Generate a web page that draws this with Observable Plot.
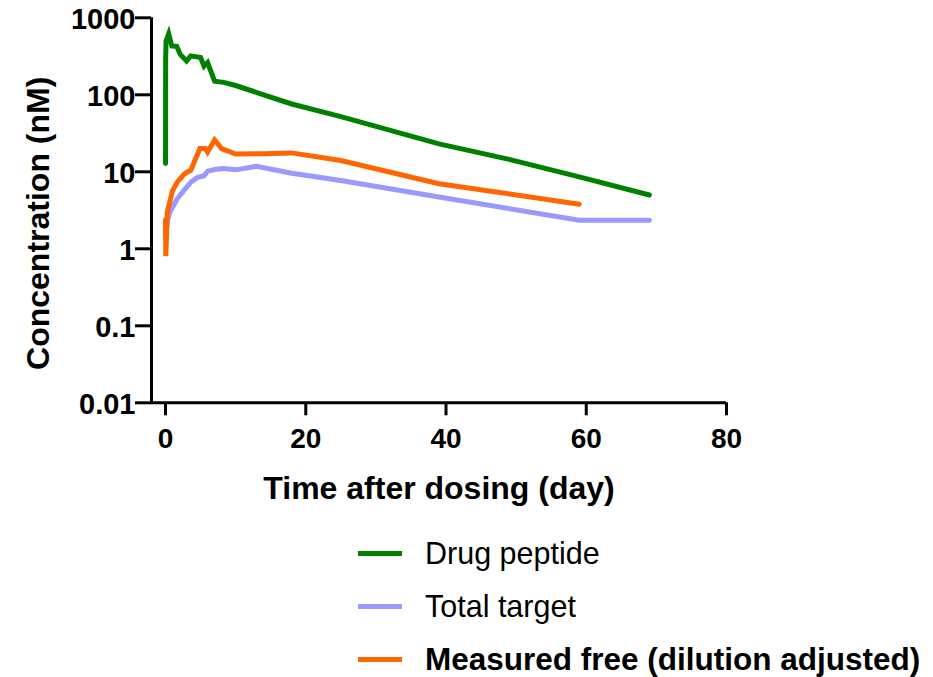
<!DOCTYPE html>
<html>
<head>
<meta charset="utf-8">
<script src="https://cdn.jsdelivr.net/npm/d3@7"></script>
<script src="https://cdn.jsdelivr.net/npm/@observablehq/plot@0.6"></script>
<style>
  html, body { margin: 0; padding: 0; background: #fff; }
  #wrap { position: relative; width: 933px; height: 677px; font-family: "Liberation Sans", Arial, sans-serif; }
  #legend { position: absolute; left: 358px; top: 527px; }
  .row { display: flex; align-items: center; height: 53px; }
  .sw { width: 44px; height: 5px; margin-right: 23px; }
  .lab { font-size: 30.5px; color: #000; white-space: nowrap; }
</style>
</head>
<body>
<div id="wrap"></div>
<script>
// Series names and colours
const seriesNames = ["Drug peptide", "Total target", "Measured free (dilution adjusted)"];
const seriesColors = ["#008000", "#9999ff", "#ff6600"];
const seriesBold = [false, false, true];

// Drug peptide: [day, nM]
const drugDays = [0, 0.02, 0.08, 0.45, 0.9, 1.6, 2.1, 3.0, 3.6, 5.0, 5.5, 6.0, 7.0, 8.3, 10, 14, 18, 25, 39, 49, 59, 69];
const drugVals = [12.8, 300, 500, 620, 430, 425, 335, 275, 320, 305, 235, 262, 150, 145, 132, 100, 76, 52, 23, 14.5, 8.6, 5.0];

// Total target
const totalDays = [0, 0.05, 0.3, 0.7, 1.7, 2.6, 3.6, 4.5, 5.5, 6.0, 7.2, 8.3, 10, 13, 18, 25, 39, 59, 69];
const totalVals = [2.0, 1.4, 2.4, 3.1, 4.5, 5.7, 7.3, 8.4, 8.9, 10.2, 10.8, 11.0, 10.6, 11.8, 9.6, 7.7, 4.7, 2.35, 2.35];

// Measured free (dilution adjusted)
const freeDays = [0, 0.04, 0.25, 1.0, 1.7, 2.6, 3.0, 3.6, 4.9, 5.7, 6.0, 7.0, 8.0, 10, 14, 18, 25, 39, 59];
const freeVals = [2.4, 0.8, 3.0, 5.7, 7.4, 9.2, 9.8, 10.4, 20, 20, 18, 26, 20, 17, 17.2, 17.6, 14, 7.0, 3.8];

// Axis ticks and titles
const xTicks = [0, 20, 40, 60, 80];
const yTicks = [0.01, 0.1, 1, 10, 100, 1000];
const yTickLabels = ["0.01", "0.1", "1", "10", "100", "1000"];
const xTitle = "Time after dosing (day)";
const yTitle = "Concentration (nM)";

const toRows = (days, vals, name) => days.map((d, i) => ({day: d, value: vals[i], series: name}));
const drug = toRows(drugDays, drugVals, seriesNames[0]);
const total = toRows(totalDays, totalVals, seriesNames[1]);
const free = toRows(freeDays, freeVals, seriesNames[2]);

const font = "'Liberation Sans', Arial, sans-serif";
const lineOpts = {x: "day", y: "value", strokeWidth: 5, strokeLinejoin: "miter", strokeMiterlimit: 4};

const chart = Plot.plot({
  width: 933,
  height: 677,
  marginLeft: 151,
  marginRight: 207,
  marginTop: 17.3,
  marginBottom: 274.7,
  style: {fontFamily: font, background: "#fff", overflow: "visible"},
  x: {domain: [-2, 80]},
  y: {type: "log", domain: [0.01, 1000]},
  marks: [
    Plot.ruleX([-2], {stroke: "#000", strokeWidth: 3}),
    Plot.ruleY([0.01], {stroke: "#000", strokeWidth: 3}),
    // y tick marks
    Plot.axisY({
      ticks: yTicks,
      tickSize: 16,
      strokeWidth: 3,
      tickFormat: () => "",
      label: null
    }),
    // y tick labels
    Plot.axisY({
      ticks: yTicks,
      tickFormat: (d) => yTickLabels[yTicks.indexOf(d)],
      tickSize: 0,
      tickPadding: 16,
      fontSize: 29,
      fontWeight: "bold",
      dy: 2,
      label: null
    }),
    Plot.axisX({
      ticks: xTicks,
      tickSize: 13,
      tickPadding: 12,
      strokeWidth: 3,
      fontSize: 28,
      fontWeight: "bold",
      label: xTitle,
      labelAnchor: "center",
      labelArrow: "none",
      labelOffset: 96
    }),
    Plot.text([yTitle], {
      text: (d) => d,
      frameAnchor: "left",
      rotate: -90,
      lineAnchor: "top",
      textAnchor: "middle",
      dx: -125,
      dy: 13,
      fontSize: 32,
      fontWeight: "bold",
      fill: "#000"
    }),
    Plot.line(drug, {...lineOpts, stroke: seriesColors[0]}),
    Plot.line(total, {...lineOpts, stroke: seriesColors[1]}),
    Plot.line(free, {...lineOpts, stroke: seriesColors[2]})
  ]
});

// enlarge the x-axis title to match
chart.querySelectorAll("g[aria-label='x-axis label'] text").forEach(t => t.setAttribute("font-size", "32"));

const wrap = document.getElementById("wrap");
wrap.appendChild(chart);

const legend = document.createElement("div");
legend.id = "legend";
seriesNames.forEach((name, i) => {
  const row = document.createElement("div");
  row.className = "row";
  const sw = document.createElement("span");
  sw.className = "sw";
  sw.style.background = seriesColors[i];
  const lab = document.createElement("span");
  lab.className = "lab";
  lab.textContent = name;
  if (seriesBold[i]) { lab.style.fontWeight = "bold"; lab.style.fontSize = "31.5px"; }
  row.appendChild(sw);
  row.appendChild(lab);
  legend.appendChild(row);
});
wrap.appendChild(legend);
</script>
</body>
</html>
